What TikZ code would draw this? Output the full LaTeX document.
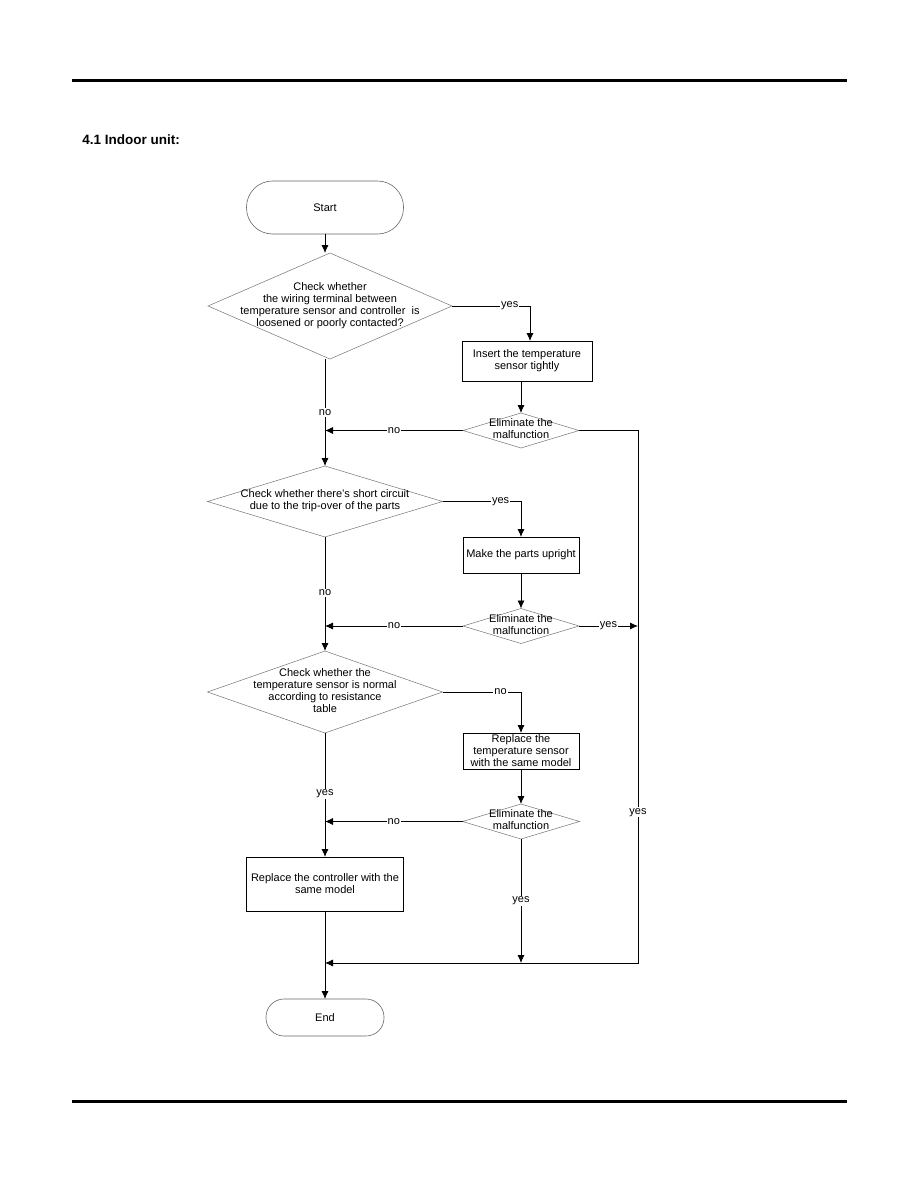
\documentclass[tikz,border=0pt]{standalone}
\usepackage{fontspec}
\setmainfont{Liberation Sans}
\usetikzlibrary{arrows.meta,shapes.geometric}
\newcommand{\ztext}[1]{\makebox[0pt]{\raisebox{-2.5pt}[0pt][0pt]{\begin{tabular}{@{}c@{}}#1\end{tabular}}}}
\begin{document}
\begin{tikzpicture}[x=1pt,y=-1pt,
  font=\fontsize{11}{12}\selectfont,
  every node/.style={outer sep=0pt},
  term/.style={draw=black!60, line width=0.6pt, rounded corners=#1, inner sep=0pt},
  dec/.style={diamond, draw=black!55, line width=0.5pt, inner sep=0pt},
  proc/.style={draw=black, line width=0.7pt, inner sep=0pt, align=center},
  arr/.style={line width=0.8pt, -{Latex[length=8pt,width=7pt]}},
  lab/.style={fill=white, inner sep=1pt}]
\useasboundingbox (0,0) rectangle (918,1188);

% page rules and heading
\coordinate (tl) at (72,81);
\coordinate (tr) at (847,81);
\coordinate (bl) at (72,1101);
\coordinate (br) at (847,1101);
\draw[line width=3pt] (tl) -- (tr);
\draw[line width=3pt] (bl) -- (br);
\node[anchor=base west, font=\bfseries\fontsize{13.5}{15}\selectfont] (title) at (79,144.5) {4.1 Indoor unit:};

% nodes
\node[term=26pt, minimum width=157pt, minimum height=53pt] (start) at (325,207.5) {Start};
\node[dec, minimum width=244pt, minimum height=106pt] (d1) at (330,306)
  {\ztext{Check whether\\the wiring terminal between\\temperature sensor and controller\ \ is\\loosened or poorly contacted?}};
\node[proc, minimum width=130pt, minimum height=40pt] (b1) at (527,361) {Insert the temperature\\sensor tightly};
\node[dec, minimum width=116pt, minimum height=35pt] (d2) at (521,430.5) {\ztext{Eliminate the\\malfunction}};
\node[dec, minimum width=235pt, minimum height=71pt] (d3) at (325,501.5)
  {\ztext{Check whether there's short circuit\\due to the trip-over of the parts}};
\node[proc, minimum width=116pt, minimum height=36pt] (b2) at (521,555) {Make the parts upright};
\node[dec, minimum width=116pt, minimum height=35pt] (d4) at (521,626) {\ztext{Eliminate the\\malfunction}};
\node[dec, minimum width=235pt, minimum height=82pt] (d5) at (325,692)
  {\ztext{Check whether the\\temperature sensor is normal\\according to resistance\\table}};
\node[proc, minimum width=116pt, minimum height=36pt] (b3) at (521,751) {Replace the\\temperature sensor\\with the same model};
\node[dec, minimum width=117pt, minimum height=35pt] (d6) at (521,821.5) {\ztext{Eliminate the\\malfunction}};
\node[proc, minimum width=157pt, minimum height=54pt] (b4) at (325,884) {Replace the controller with the\\same model};
\node[term=18pt, minimum width=118pt, minimum height=37pt] (end) at (325,1017.5) {End};

\coordinate (rc) at (638,963);
\coordinate (jn) at (325,963);

% connectors
\draw[arr] (start.south) -- (start.south |- d1.north);
\draw[arr] (d1.east) -| node[lab, pos=0.37] {yes} (b1.north -| 530,0);
\draw[arr] (b1.south -| d2.north) -- (d2.north);
\draw[arr] (d2.west) -- node[lab, pos=0.5] {no} (d2.west -| start.south);
\draw[arr] (d1.south -| start.south) -- node[lab, pos=0.5] {no} (d3.north);
\draw[arr] (d3.east) -| node[lab, pos=0.37] {yes} (b2.north);
\draw[arr] (b2.south) -- (d4.north);
\draw[arr] (d4.west) -- node[lab, pos=0.5] {no} (d4.west -| start.south);
\draw[arr] (d4.east) -- node[lab, pos=0.5] {yes} (d4.east -| rc);
\draw[arr] (d3.south) -- node[lab, pos=0.49] {no} (d5.north);
\draw[arr] (d5.east) -| node[lab, pos=0.37] {no} (b3.north);
\draw[arr] (b3.south) -- (d6.north);
\draw[arr] (d6.west) -- node[lab, pos=0.5] {no} (d6.west -| start.south);
\draw[arr] (d5.south) -- node[lab, pos=0.49] {yes} (b4.north);
\draw[arr] (d6.south) -- node[lab, pos=0.5] {yes} (d6.south |- jn);
\draw[arr] (d2.east) -- (d2.east -| rc) -- node[lab, pos=0.717] {yes} (rc) -- (jn);
\draw[arr] (b4.south) -- (end.north);
\end{tikzpicture}
\end{document}
